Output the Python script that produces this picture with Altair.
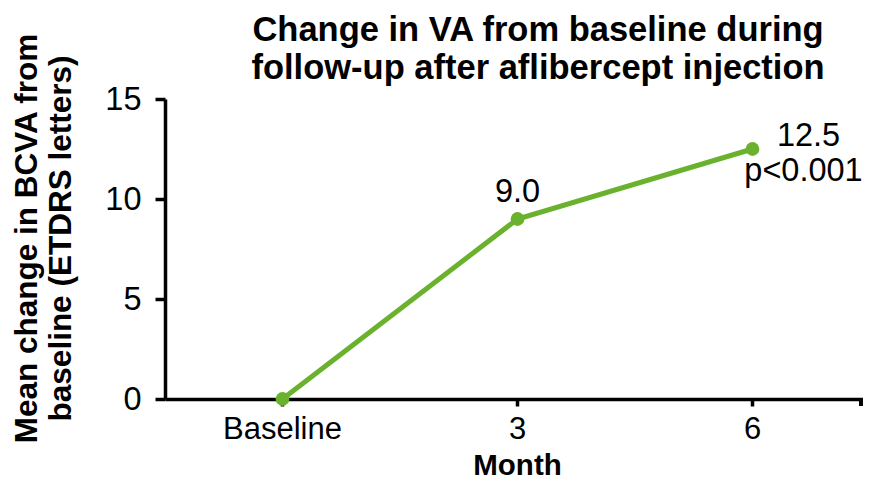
import altair as alt
import pandas as pd

months = ["Baseline", "3", "6"]
change = [0.0, 9.0, 12.5]
labels = ["", "9.0", "12.5"]
sig = ["", "", "p<0.001"]

df = pd.DataFrame({"month": months, "change": change, "label": labels, "sig": sig})

GREEN = "#6AB22E"
FONT = "Liberation Sans"
FS = 32.5

x = alt.X(
    "month:N",
    sort=months,
    scale=alt.Scale(type="band", paddingInner=0, paddingOuter=0, range=[0, 705]),
    axis=alt.Axis(
        title="Month",
        titleFont=FONT,
        titleFontSize=29.5,
        titleFontWeight="bold",
        titleColor="black",
        titleX=352,
        titleY=66,
        titleBaseline="middle",
        labelFont=FONT,
        labelFontSize=31,
        labelColor="black",
        labelAngle=0,
        labelPadding=8,
        domainColor="black",
        domainWidth=3.5,
        tickColor="black",
        tickWidth=3.5,
        tickSize=7,
        grid=False,
    ),
)

y = alt.Y(
    "change:Q",
    scale=alt.Scale(domain=[0, 15], nice=False),
    axis=alt.Axis(
        title=["Mean change in BCVA from", "baseline (ETDRS letters)"],
        titleFont=FONT,
        titleFontSize=31.5,
        titleFontWeight="bold",
        titleColor="black",
        titleAngle=-90,
        titleBaseline="top",
        titleAlign="center",
        titleX=-154,
        titleY=139,
        titleLineHeight=34,
        values=[0, 5, 10, 15],
        labelFont=FONT,
        labelFontSize=FS,
        labelColor="black",
        labelPadding=14,
        domainColor="black",
        domainWidth=3.5,
        tickColor="black",
        tickWidth=3.5,
        tickSize=10,
        grid=False,
    ),
)

base = alt.Chart(df)

line = base.mark_line(color=GREEN, strokeWidth=5).encode(x=x, y=y)
points = base.mark_point(color=GREEN, filled=True, opacity=1, size=190).encode(x=x, y=y)

lab9 = base.transform_filter(alt.datum.month == "3").mark_text(
    font=FONT, fontSize=FS, color="black", dy=-27, baseline="middle", align="center"
).encode(x=x, y=y, text="label:N")

lab12 = base.transform_filter(alt.datum.month == "6").mark_text(
    font=FONT, fontSize=FS, color="black", dx=56, dy=-13, baseline="middle", align="center"
).encode(x=x, y=y, text="label:N")

labp = base.transform_filter(alt.datum.month == "6").mark_text(
    font=FONT, fontSize=FS, color="black", dx=51, dy=22, baseline="middle", align="center"
).encode(x=x, y=y, text="sig:N")

end_tick = alt.Chart(df).mark_rule(color="black", strokeWidth=3.5).encode(
    x=alt.value(696), y=alt.value(300), y2=alt.value(307)
)

chart = alt.layer(line, points, lab9, lab12, labp, end_tick).properties(
    width=698,
    height=300,
    autosize=alt.AutoSizeParams(type="none"),
    padding={"left": 157, "top": 91, "right": 0, "bottom": 83},
    title=alt.TitleParams(
        text=["Change in VA from baseline during", "follow-up after aflibercept injection"],
        font=FONT,
        fontSize=34.5,
        fontWeight="bold",
        color="black",
        anchor="middle",
        dx=24,
        offset=-54,
        lineHeight=38,
    ),
).configure_view(stroke=None)

chart.save("out.html", embed_options={"renderer": "svg", "actions": False})
